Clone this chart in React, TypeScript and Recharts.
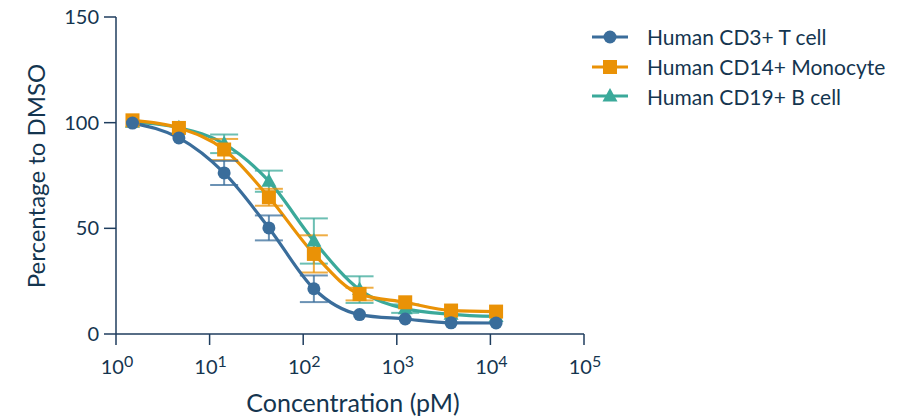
import { LineChart, Line, XAxis, YAxis, ErrorBar } from "recharts";

// concentrations (pM), 3-fold dilutions
const concentrations = [1.5, 4.7, 14.3, 43, 130, 400, 1230, 3800, 11500];

const tCell = [99.8, 92.8, 76.2, 50.2, 21.4, 9.2, 7.1, 5.3, 5.2];
const tCellErr = [0, 0, 5.7, 5.9, 6.3, 0, 0, 0, 0];
const monocyte = [101.1, 97.5, 87.3, 64.7, 37.9, 18.9, 15.0, 11.1, 10.6];
const monocyteErr = [0, 0, 5, 4, 8.8, 3, 0, 0, 0];
const bCell = [100.2, 97.6, 90, 72.3, 44, 21, 12, 9.3, 8.3];
const bCellErr = [0, 0, 4.4, 5, 10.7, 6.3, 2, 0, 0];

const xTicks = [1, 10, 100, 1000, 10000, 100000];
const yTicks = [0, 50, 100, 150];

const seriesNames = ["Human CD3+ T cell", "Human CD14+ Monocyte", "Human CD19+ B cell"];
const seriesColors = ["#3a6d9b", "#ea9206", "#3ba99a"];
const seriesShapes = ["circle", "square", "triangle"];

const TEXT = "#14354f";
const AXIS = "#1f3d5e";
const FONT = "Lato, 'Noto Sans', sans-serif";

const data = concentrations.map((c, i) => ({
  conc: c,
  tCell: tCell[i],
  tCellErr: tCellErr[i],
  monocyte: monocyte[i],
  monocyteErr: monocyteErr[i],
  bCell: bCell[i],
  bCellErr: bCellErr[i],
}));

function Marker({ shape, cx, cy, color }: { shape: string; cx: number; cy: number; color: string }) {
  if (shape === "circle") return <circle cx={cx} cy={cy} r={6.5} fill={color} />;
  if (shape === "square") return <rect x={cx - 7} y={cy - 7} width={14} height={14} fill={color} />;
  return <polygon points={`${cx},${cy - 8} ${cx + 7.5},${cy + 5.5} ${cx - 7.5},${cy + 5.5}`} fill={color} />;
}

function makeDot(shape: string, color: string) {
  return (props: any) => (
    <Marker key={`${shape}-${props.index}`} shape={shape} cx={props.cx} cy={props.cy} color={color} />
  );
}

const XTick = ({ x, y, payload }: any) => {
  const exp = Math.round(Math.log10(payload.value));
  return (
    <text x={x + 1} y={y + 27} textAnchor="middle" fill={TEXT} fontSize={20} fontFamily={FONT}>
      10
      <tspan dy={-7} fontSize={16}>
        {exp}
      </tspan>
    </text>
  );
};

const YTick = ({ x, y, payload }: any) => (
  <text x={x} y={y + 7} textAnchor="end" fill={TEXT} fontSize={20} fontFamily={FONT}>
    {payload.value}
  </text>
);

const ChartLegend = () => (
  <div style={{ position: "absolute", left: 591, top: 22, fontFamily: FONT, color: TEXT, fontSize: 21 }}>
    {seriesNames.map((name, i) => (
      <div key={name} style={{ display: "flex", alignItems: "center", height: 29.7 }}>
        <svg width={40} height={20}>
          <line x1={1} x2={37} y1={10} y2={10} stroke={seriesColors[i]} strokeWidth={3} />
          <Marker shape={seriesShapes[i]} cx={19} cy={10} color={seriesColors[i]} />
        </svg>
        <span style={{ marginLeft: 16 }}>{name}</span>
      </div>
    ))}
  </div>
);

export default function App() {
  const lines = [
    { key: "bCell", err: "bCellErr", idx: 2 },
    { key: "monocyte", err: "monocyteErr", idx: 1 },
    { key: "tCell", err: "tCellErr", idx: 0 },
  ];
  return (
    <div style={{ position: "absolute", left: 0, top: 0, width: 913, height: 419 }}>
      <LineChart width={913} height={419} data={data} margin={{ top: 17, right: 329, left: 56, bottom: 35 }}>
        <XAxis
          dataKey="conc"
          type="number"
          scale="log"
          domain={[1, 100000]}
          ticks={xTicks}
          allowDataOverflow
          stroke={AXIS}
          strokeWidth={1.5}
          tickSize={11}
          tickMargin={2}
          tick={<XTick />}
          height={50}
          label={{
            content: () => (
              <text x={353} y={412} textAnchor="middle" fill={TEXT} fontSize={25} fontFamily={FONT}>
                Concentration (pM)
              </text>
            ),
          }}
        />
        <YAxis
          type="number"
          domain={[0, 150]}
          ticks={yTicks}
          stroke={AXIS}
          strokeWidth={1.5}
          tickSize={12}
          tickMargin={5}
          tick={<YTick />}
          width={60}
          label={{
            content: () => (
              <text
                x={45}
                y={176}
                transform="rotate(-90 45 176)"
                textAnchor="middle"
                fill={TEXT}
                fontSize={24}
                fontFamily={FONT}
              >
                Percentage to DMSO
              </text>
            ),
          }}
        />
        {lines.map((l) => (
          <Line
            key={l.key}
            dataKey={l.key}
            name={seriesNames[l.idx]}
            type="monotone"
            stroke={seriesColors[l.idx]}
            strokeWidth={3.2}
            dot={makeDot(seriesShapes[l.idx], seriesColors[l.idx])}
            activeDot={false}
            isAnimationActive={false}
          >
            <ErrorBar
              dataKey={l.err}
              direction="y"
              width={14}
              strokeWidth={2}
              stroke={seriesColors[l.idx]}
              strokeOpacity={0.75}
              isAnimationActive={false}
            />
          </Line>
        ))}
      </LineChart>
      <ChartLegend />
    </div>
  );
}
